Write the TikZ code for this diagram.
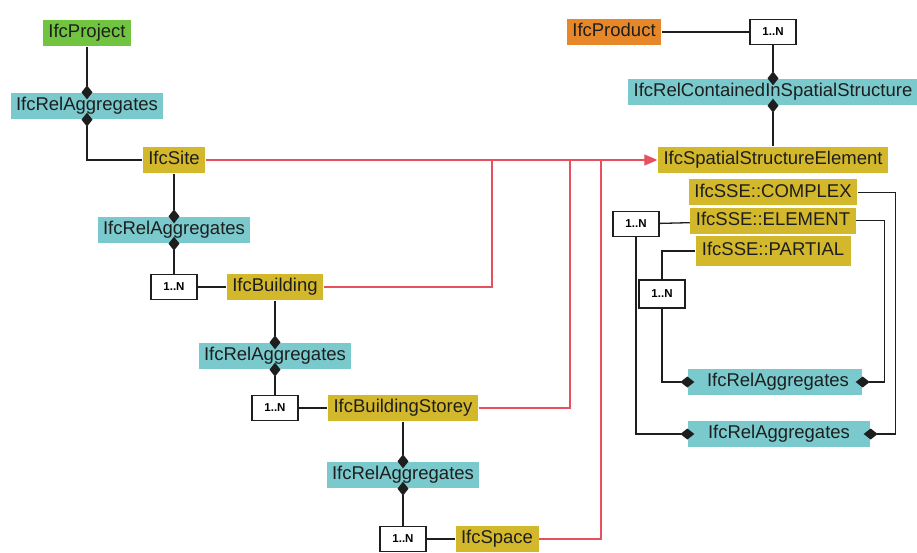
\documentclass[tikz,border=0pt]{standalone}
\usepackage{fontspec}
\setmainfont{Liberation Sans}
\usetikzlibrary{positioning,arrows.meta}

\definecolor{rootgreen}{RGB}{112,196,64}
\definecolor{relteal}{RGB}{122,202,205}
\definecolor{spatialgold}{RGB}{212,184,44}
\definecolor{productorange}{RGB}{230,135,42}
\definecolor{linkred}{RGB}{232,80,96}
\definecolor{inkgray}{RGB}{30,30,30}

\begin{document}
\begin{tikzpicture}[%
		x=1pt, y=-1pt,
		line width=1.3pt,
		draw=inkgray,
		font=\fontsize{18.5}{20}\selectfont,
		ifc/.style={%
			minimum height=26pt,
			inner xsep=5.5pt,
			inner ysep=0pt,
			text height=13pt,
			text depth=3.5pt,
			text=inkgray
		},
		root/.style={ifc, fill=rootgreen},
		rel/.style={ifc, fill=relteal},
		spatial/.style={ifc, fill=spatialgold},
		product/.style={ifc, fill=productorange},
		card/.style={%
			draw=inkgray,
			fill=white,
			line width=1.1pt,
			minimum width=46pt,
			minimum height=25pt,
			font=\fontsize{11.5}{12}\selectfont\bfseries
		},
		diam/.style={-{Diamond[length=14pt,width=11pt]}, shorten >=-7pt},
		diamstart/.style={{Diamond[length=14pt,width=11pt]}-, shorten <=-7pt},
		hv/.style={to path={-| (\tikztotarget) \tikztonodes}},
		vh/.style={to path={|- (\tikztotarget) \tikztonodes}},
		redlink/.style={draw=linkred, line width=1.1pt}
		]
		\useasboundingbox (0,0) rectangle (917,553);

		% aggregation chain on the left
		\node[root] (1) at (87,33)                                   {IfcProject};
		\node[rel] (2) at (87,106)                                   {IfcRelAggregates};
		\node[spatial] (3) at (174,160)                              {IfcSite};
		\node[rel] (4) at (174,230)                                  {IfcRelAggregates};
		\node[card] (5) at (174,287)                                 {1..N};
		\node[spatial] (6) at (275,287)                              {IfcBuilding};
		\node[rel] (7) at (275,356)                                  {IfcRelAggregates};
		\node[card] (8) at (275,408)                                 {1..N};
		\node[spatial] (9) at (403,408)                              {IfcBuildingStorey};
		\node[rel] (10) at (403,475)                                 {IfcRelAggregates};
		\node[card] (11) at (403,539)                                {1..N};
		\node[spatial] (12) at (497,539)                             {IfcSpace};

		% containment and spatial structure on the right
		\node[product] (13) at (614,32)                              {IfcProduct};
		\node[card] (14) at (773,32)                                 {1..N};
		\node[rel] (15) at (773,92)                                  {IfcRelContainedInSpatialStructure};
		\node[spatial] (16) at (773,160)                             {IfcSpatialStructureElement};
		\node[spatial, minimum width=165pt] (17) [below=5pt of 16]   {IfcSSE::COMPLEX};
		\node[spatial, minimum width=165pt] (18) [below=1pt of 17]   {IfcSSE::ELEMENT};
		\node[spatial, minimum width=155pt, minimum height=30pt] (19) [below=1pt of 18] {IfcSSE::PARTIAL};
		\node[card] (20) at (636,224)                                {1..N};
		\node[card, minimum height=28pt] (21) at (662,294)           {1..N};
		\node[rel, minimum width=174pt] (22) at (775,382)            {\hspace*{6pt}IfcRelAggregates};
		\node[rel, minimum width=182pt] (23) at (779,434)            {IfcRelAggregates};

		\coordinate (r1) at (492,160);
		\coordinate (r2) at (570,160);
		\coordinate (r3) at (601,160);

		\path (1) edge [diam]                                        (2)
		(3) edge [hv, diam]                                          (2)
		(3) edge [diam]                                              (4)
		(4) edge [diamstart]                                         (5)
		(5) edge                                                     (6)
		(6) edge [diam]                                              (7)
		(7) edge [diamstart]                                         (8)
		(8) edge                                                     (9)
		(9) edge [diam]                                              (10)
		(10) edge [diamstart]                                        (11)
		(11) edge                                                    (12)
		(13) edge                                                    (14)
		(14) edge [diam]                                             (15)
		(15) edge [diamstart]                                        (16)
		(20) edge                                                    (18)
		(19) edge [hv]                                               (21)
		(21) edge [vh, diam]                                         (22)
		(20) edge [vh, diam]                                         (23);

		\draw[diam] (17.east) -- ++(38,0) |- (23.east);
		\draw[diam] (18.east) -- ++(28,0) |- (22.east);

		% subtypes of IfcSpatialStructureElement
		\path[redlink] (6) edge [hv]                                 (r1)
		(9) edge [hv]                                                (r2)
		(12) edge [hv]                                               (r3)
		(3) edge [-{Triangle[length=13pt,width=11pt,color=linkred,fill=linkred]}] (16);
		\end{tikzpicture}
\end{document}
